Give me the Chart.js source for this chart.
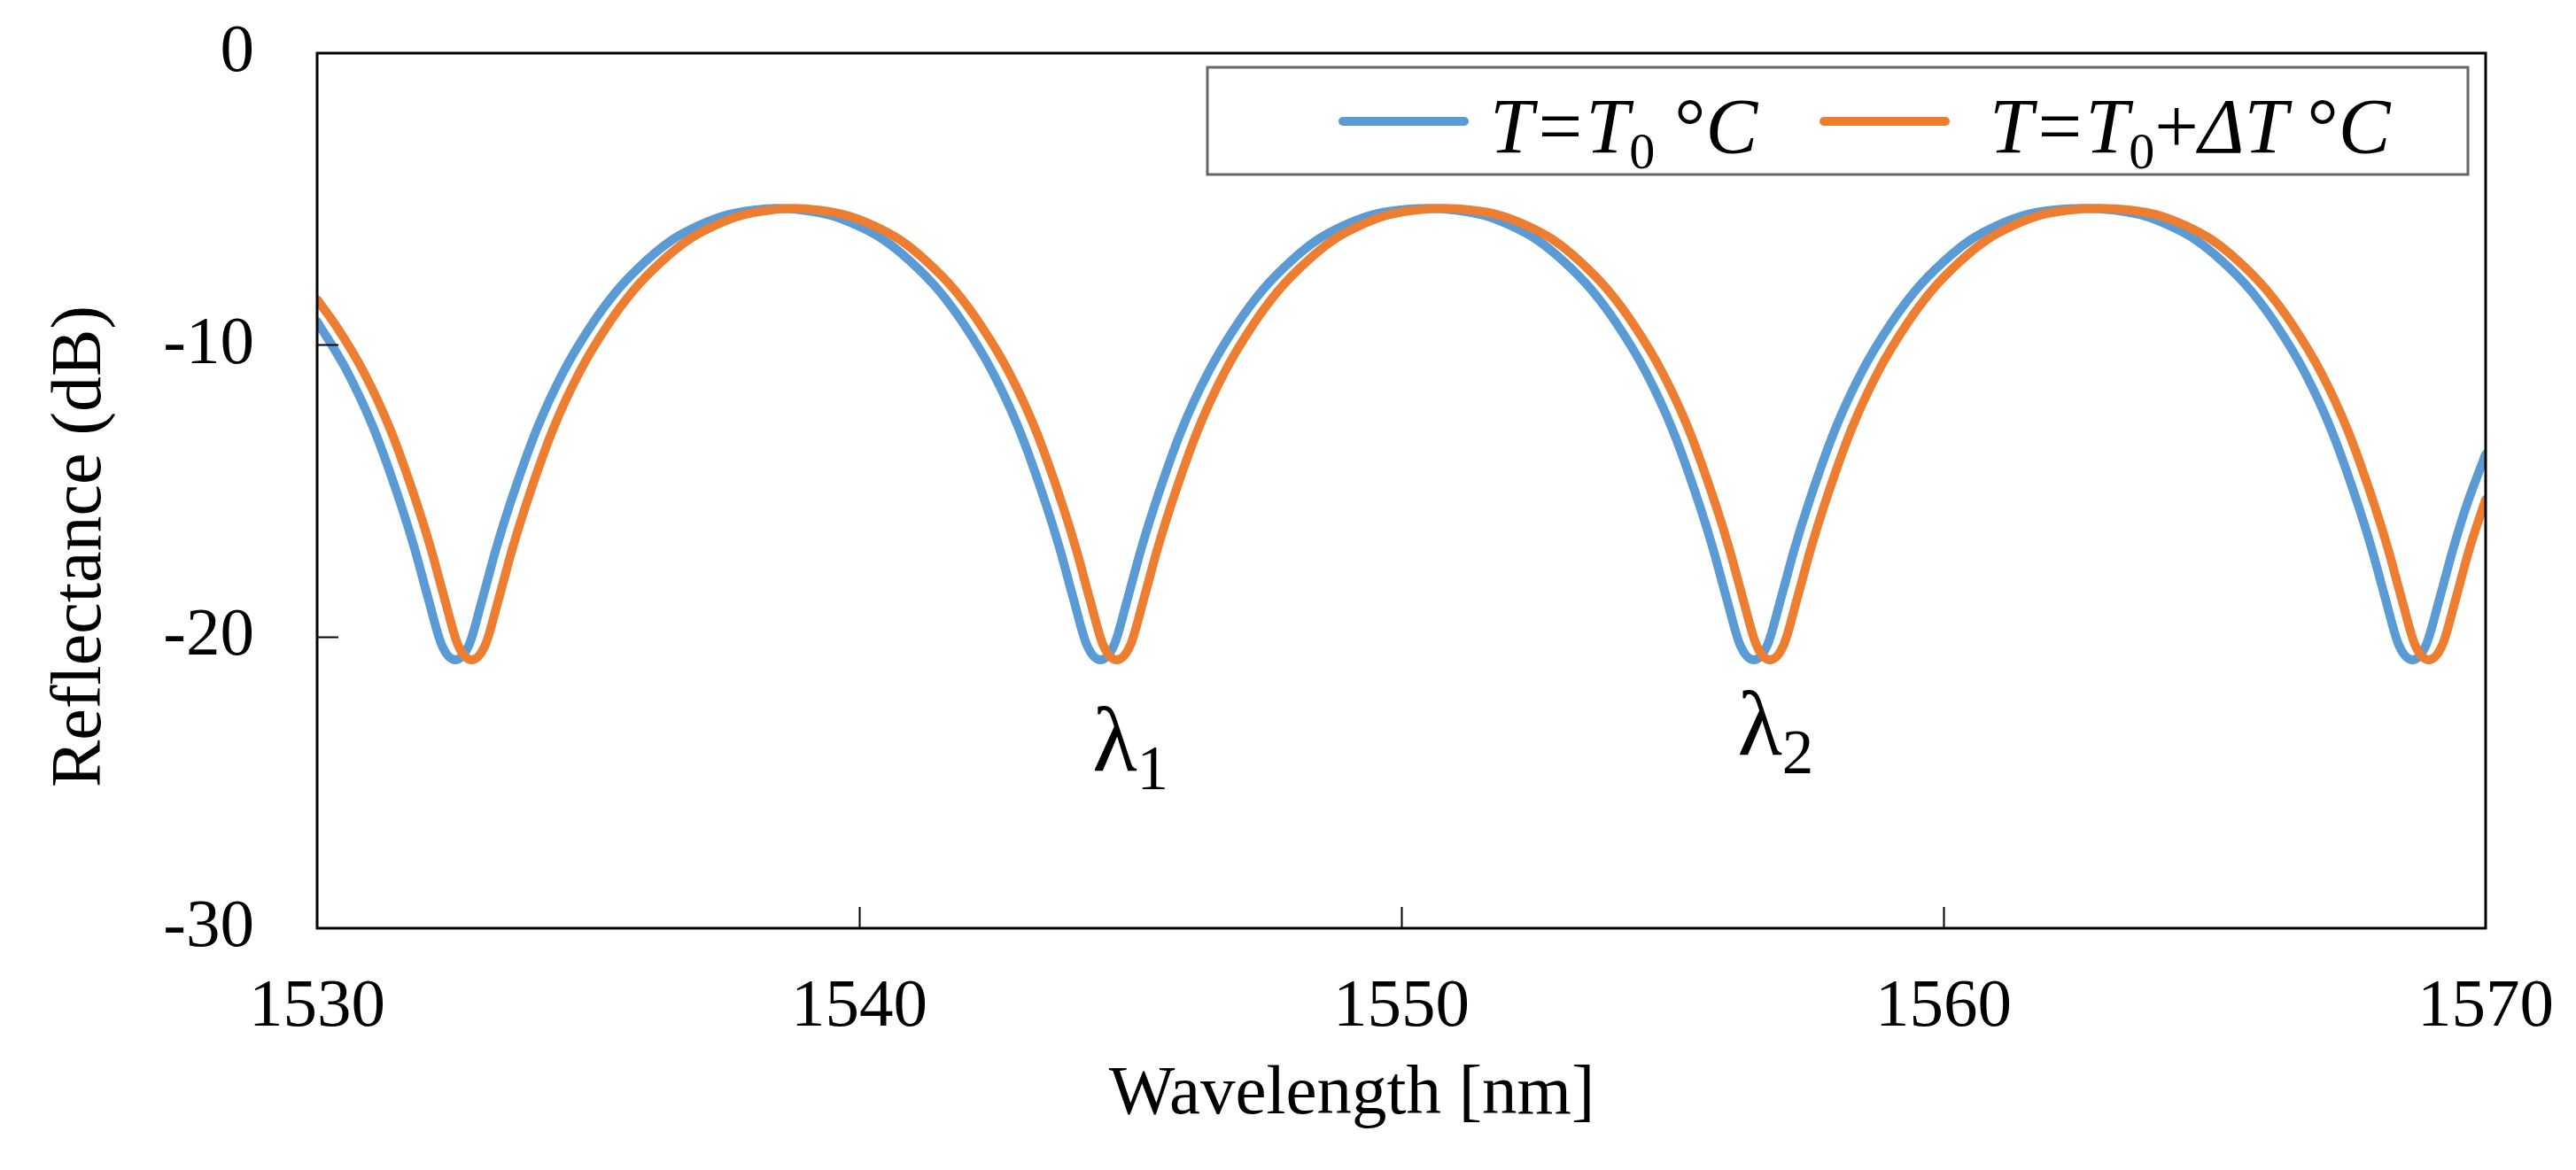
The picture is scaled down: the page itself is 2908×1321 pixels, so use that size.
<!DOCTYPE html>
<html lang="en">
<head>
<meta charset="UTF-8">
<title>Reflectance vs wavelength</title>
<script src="https://cdn.jsdelivr.net/npm/chart.js@4"></script>
<style>
    html, body { margin: 0; padding: 0; background: #fff; }
    #wrap { width: 2908px; height: 1321px; }
</style>
</head>
<body>
<div id="wrap"><canvas id="reflChart" width="2908" height="1321"></canvas></div>
<script>
// T = T0 (blue)
const blueWl = [
    1530.0, 1530.55, 1531.05, 1531.55, 1531.8, 1532.05, 1532.3, 1532.55, 1532.8, 1533.05, 1533.3, 1533.55,
    1534.05, 1534.55, 1535.05, 1535.55, 1536.05, 1536.55, 1537.05, 1537.55, 1538.05, 1538.5,
    1538.95, 1539.45, 1539.95, 1540.45, 1540.95, 1541.45, 1541.95, 1542.45, 1542.95, 1543.45, 1543.7, 1543.95, 1544.2, 1544.45,
    1544.7, 1544.95, 1545.2, 1545.45, 1545.95, 1546.45, 1546.95, 1547.45, 1547.95, 1548.45, 1548.95, 1549.45, 1549.95, 1550.48,
    1551.0, 1551.5, 1552.0, 1552.5, 1553.0, 1553.5, 1554.0, 1554.5, 1555.0, 1555.5, 1555.75, 1556.0, 1556.25, 1556.5,
    1556.75, 1557.0, 1557.25, 1557.5, 1558.0, 1558.5, 1559.0, 1559.5, 1560.0, 1560.5, 1561.0, 1561.5, 1562.0, 1562.58,
    1563.15, 1563.65, 1564.15, 1564.65, 1565.15, 1565.65, 1566.15, 1566.65, 1567.15, 1567.65, 1567.9, 1568.15, 1568.4, 1568.65,
    1568.9, 1569.15, 1569.4, 1569.65, 1570.0
];
const blueDb = [
    -9.2, -10.9, -12.9, -15.5, -17.0, -18.7, -20.3, -20.8, -20.3, -18.7, -17.0, -15.5,
    -12.9, -10.9, -9.35, -8.1, -7.15, -6.4, -5.9, -5.55, -5.38, -5.32,
    -5.38, -5.55, -5.9, -6.4, -7.15, -8.1, -9.35, -10.9, -12.9, -15.5, -17.0, -18.7, -20.3, -20.8,
    -20.3, -18.7, -17.0, -15.5, -12.9, -10.9, -9.35, -8.1, -7.15, -6.4, -5.9, -5.55, -5.38, -5.32,
    -5.38, -5.55, -5.9, -6.4, -7.15, -8.1, -9.35, -10.9, -12.9, -15.5, -17.0, -18.7, -20.3, -20.8,
    -20.3, -18.7, -17.0, -15.5, -12.9, -10.9, -9.35, -8.1, -7.15, -6.4, -5.9, -5.55, -5.38, -5.32,
    -5.38, -5.55, -5.9, -6.4, -7.15, -8.1, -9.35, -10.9, -12.9, -15.5, -17.0, -18.7, -20.3, -20.8,
    -20.3, -18.7, -17.0, -15.5, -13.75
];

// T = T0 + dT (orange), shifted slightly to the red
const orangeWl = [
    1530.0, 1530.35, 1530.85, 1531.35, 1531.85, 1532.1, 1532.35, 1532.6, 1532.85, 1533.1, 1533.35, 1533.6, 1533.85,
    1534.35, 1534.85, 1535.35, 1535.85, 1536.35, 1536.85, 1537.35, 1537.85, 1538.35, 1538.8,
    1539.25, 1539.75, 1540.25, 1540.75, 1541.25, 1541.75, 1542.25, 1542.75, 1543.25, 1543.75, 1544.0, 1544.25, 1544.5, 1544.75,
    1545.0, 1545.25, 1545.5, 1545.75, 1546.25, 1546.75, 1547.25, 1547.75, 1548.25, 1548.75, 1549.25, 1549.75, 1550.25, 1550.78,
    1551.3, 1551.8, 1552.3, 1552.8, 1553.3, 1553.8, 1554.3, 1554.8, 1555.3, 1555.8, 1556.05, 1556.3, 1556.55, 1556.8,
    1557.05, 1557.3, 1557.55, 1557.8, 1558.3, 1558.8, 1559.3, 1559.8, 1560.3, 1560.8, 1561.3, 1561.8, 1562.3, 1562.88,
    1563.45, 1563.95, 1564.45, 1564.95, 1565.45, 1565.95, 1566.45, 1566.95, 1567.45, 1567.95, 1568.2, 1568.45, 1568.7, 1568.95,
    1569.2, 1569.45, 1569.7, 1570.0
];
const orangeDb = [
    -8.45, -9.35, -10.9, -12.9, -15.5, -17.0, -18.7, -20.3, -20.8, -20.3, -18.7, -17.0, -15.5,
    -12.9, -10.9, -9.35, -8.1, -7.15, -6.4, -5.9, -5.55, -5.38, -5.32,
    -5.38, -5.55, -5.9, -6.4, -7.15, -8.1, -9.35, -10.9, -12.9, -15.5, -17.0, -18.7, -20.3, -20.8,
    -20.3, -18.7, -17.0, -15.5, -12.9, -10.9, -9.35, -8.1, -7.15, -6.4, -5.9, -5.55, -5.38, -5.32,
    -5.38, -5.55, -5.9, -6.4, -7.15, -8.1, -9.35, -10.9, -12.9, -15.5, -17.0, -18.7, -20.3, -20.8,
    -20.3, -18.7, -17.0, -15.5, -12.9, -10.9, -9.35, -8.1, -7.15, -6.4, -5.9, -5.55, -5.38, -5.32,
    -5.38, -5.55, -5.9, -6.4, -7.15, -8.1, -9.35, -10.9, -12.9, -15.5, -17.0, -18.7, -20.3, -20.8,
    -20.3, -18.7, -17.0, -15.3
];

const xTicks = [1530, 1540, 1550, 1560, 1570];
const yTicks = [0, -10, -20, -30];
const seriesNames = ['T=T0 °C', 'T=T0+ΔT °C'];
const xTitle = 'Wavelength [nm]';
const yTitle = 'Reflectance (dB)';

// pieces of the legend text, so T can be italic and 0 a subscript
const legendParts = [
    [{ t: 'T', it: true }, { t: '=', it: true }, { t: 'T', it: true }, { t: '0', sub: true }, { t: ' °', it: false }, { t: 'C', it: true }],
    [{ t: 'T', it: true }, { t: '=', it: true }, { t: 'T', it: true }, { t: '0', sub: true }, { t: '+', it: false },
     { t: 'Δ', it: true }, { t: 'T', it: true }, { t: ' °', it: false }, { t: 'C', it: true }]
];
// λ labels under the two marked dips (wavelength, dB of baseline)
const dipLabels = [
    { sym: 'λ', sub: '1', wl: 1544.3, db: -24.6 },
    { sym: 'λ', sub: '2', wl: 1556.2, db: -24.05 }
];

const SERIF = '"Liberation Serif", "Times New Roman", serif';
const BLUE = '#5B9BD5';
const ORANGE = '#ED7D31';

function drawRich(ctx, x, baseline, parts, size) {
    parts.forEach(p => {
        const fs = p.sub ? Math.round(size * 0.66) : size;
        ctx.font = (p.it ? 'italic ' : '') + fs + 'px ' + SERIF;
        ctx.fillText(p.t, x, baseline + (p.sub ? size * 0.21 : 0));
        x += ctx.measureText(p.t).width;
    });
    return x;
}

const decorPlugin = {
    id: 'decor',
    afterDatasetsDraw(chart) {
        const ctx = chart.ctx;
        const a = chart.chartArea;
        const xs = chart.scales.x, ys = chart.scales.y;
        ctx.save();
        ctx.strokeStyle = '#000';
        ctx.lineWidth = 3;
        ctx.strokeRect(a.left, a.top, a.right - a.left, a.bottom - a.top);

        // inside tick marks
        ctx.lineWidth = 2;
        ctx.beginPath();
        xTicks.slice(1, -1).forEach(v => {
            const px = Math.round(xs.getPixelForValue(v)) + 0.5;
            ctx.moveTo(px, a.bottom);
            ctx.lineTo(px, a.bottom - 24);
        });
        yTicks.slice(1, -1).forEach(v => {
            const py = Math.round(ys.getPixelForValue(v)) + 0.5;
            ctx.moveTo(a.left, py);
            ctx.lineTo(a.left + 24, py);
        });
        ctx.stroke();
        ctx.restore();
    },
    afterDraw(chart) {
        const ctx = chart.ctx;
        const xs = chart.scales.x, ys = chart.scales.y;
        ctx.save();
        ctx.fillStyle = '#000';
        ctx.textBaseline = 'alphabetic';

        // axis titles (the original sits a little off the plot centre)
        ctx.font = '79px ' + SERIF;
        ctx.textAlign = 'center';
        ctx.fillText(xTitle, 1526, 1257);
        ctx.save();
        ctx.translate(113, 617);
        ctx.rotate(-Math.PI / 2);
        ctx.font = '80px ' + SERIF;
        ctx.fillText(yTitle, 0, 0);
        ctx.restore();

        // legend box
        ctx.textAlign = 'left';
        ctx.fillStyle = '#fff';
        ctx.fillRect(1363, 76, 1423, 121);
        ctx.strokeStyle = '#666';
        ctx.lineWidth = 3;
        ctx.strokeRect(1363, 76, 1423, 121);
        const items = [
            { color: BLUE, x0: 1516, x1: 1653, tx: 1682, parts: legendParts[0] },
            { color: ORANGE, x0: 2059, x1: 2196, tx: 2246, parts: legendParts[1] }
        ];
        items.forEach(it => {
            ctx.strokeStyle = it.color;
            ctx.lineWidth = 10;
            ctx.lineCap = 'round';
            ctx.beginPath();
            ctx.moveTo(it.x0, 137);
            ctx.lineTo(it.x1, 137);
            ctx.stroke();
            ctx.fillStyle = '#000';
            drawRich(ctx, it.tx, 172, it.parts, 88);
        });

        // λ1, λ2 labels
        dipLabels.forEach(l => {
            const px = xs.getPixelForValue(l.wl);
            const py = ys.getPixelForValue(l.db);
            ctx.font = '104px ' + SERIF;
            ctx.fillText(l.sym, px, py);
            const w = ctx.measureText(l.sym).width;
            ctx.font = '71px ' + SERIF;
            ctx.fillText(l.sub, px + w, py + 21);
        });
        ctx.restore();
    }
};

new Chart(document.getElementById('reflChart'), {
    type: 'line',
    data: {
        datasets: [
            {
                label: seriesNames[0],
                data: blueWl.map((w, i) => ({ x: w, y: blueDb[i] })),
                borderColor: BLUE,
                order: 1
            },
            {
                label: seriesNames[1],
                data: orangeWl.map((w, i) => ({ x: w, y: orangeDb[i] })),
                borderColor: ORANGE,
                order: 0
            }
        ]
    },
    options: {
        responsive: false,
        devicePixelRatio: 1,
        animation: false,
        layout: { padding: { left: 0, right: 102, top: 60, bottom: 0 } },
        elements: {
            point: { radius: 0, hoverRadius: 0 },
            line: {
                borderWidth: 10,
                cubicInterpolationMode: 'monotone',
                borderCapStyle: 'round',
                borderJoinStyle: 'round',
                fill: false
            }
        },
        plugins: {
            legend: { display: false },
            tooltip: { enabled: false }
        },
        scales: {
            x: {
                type: 'linear',
                min: xTicks[0],
                max: xTicks[xTicks.length - 1],
                afterBuildTicks: s => { s.ticks = xTicks.map(v => ({ value: v })); },
                afterFit: s => {
                    s.height = 273;
                    s.paddingLeft = 0;
                    s.paddingRight = 0;
                },
                grid: { display: false, drawTicks: false },
                border: { display: false },
                ticks: {
                    padding: 44,
                    color: '#000',
                    font: { family: SERIF, size: 77 },
                    maxRotation: 0,
                    autoSkip: false,
                    callback: v => String(v)
                }
            },
            y: {
                type: 'linear',
                min: yTicks[yTicks.length - 1],
                max: yTicks[0],
                afterBuildTicks: s => { s.ticks = yTicks.map(v => ({ value: v })); },
                afterFit: s => {
                    s.width = 358;
                    s.paddingTop = 0;
                    s.paddingBottom = 0;
                },
                grid: { display: false, drawTicks: false },
                border: { display: false },
                ticks: {
                    padding: 71,
                    color: '#000',
                    font: { family: SERIF, size: 77 },
                    autoSkip: false,
                    callback: v => String(v)
                }
            }
        }
    },
    plugins: [decorPlugin]
});
</script>
</body>
</html>
